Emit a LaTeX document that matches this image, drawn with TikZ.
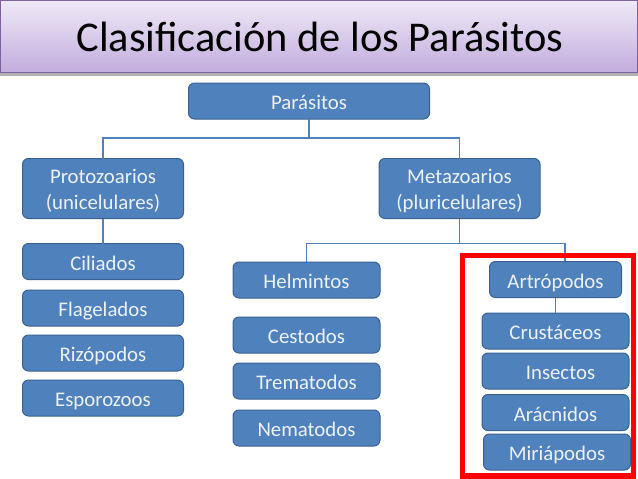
\documentclass[tikz,border=0pt]{standalone}
\usepackage{fontspec}
\setmainfont{Carlito}
\definecolor{boxfill}{HTML}{4F81BD}
\definecolor{boxline}{HTML}{3A6291}
\definecolor{boxtext}{HTML}{EDF2F9}
\definecolor{barline}{HTML}{7D62A0}
\definecolor{bartop}{HTML}{EFE9F7}
\definecolor{barbottom}{HTML}{C2ACDD}
\begin{document}
\begin{tikzpicture}[x=1pt,y=-1pt,link/.style={draw=boxfill,line width=1.8pt},
    every node/.style={outer sep=0pt}]
    \tikzstyle{element}=[rectangle,rounded corners=6pt,fill=boxfill,draw=boxline,line width=1pt,
        text=boxtext,font=\fontsize{20.8}{26}\selectfont,align=center,inner sep=0pt,
        execute at begin node={\rule[-3.5pt]{0pt}{24pt}}]
    \tikzstyle{wide}=[element,minimum width=161pt,minimum height=36pt]
    \tikzstyle{mid}=[element,minimum width=147pt,minimum height=36pt]
    \tikzstyle{tall}=[element,minimum width=161pt,minimum height=60pt,
        execute at begin node={\rule{0pt}{46pt}}]

    \useasboundingbox (0,0) rectangle (638,479);

    \fill[black!30] (0,73) rectangle (638,76);
    \node[rectangle,draw=barline,line width=1pt,top color=bartop,bottom color=barbottom,
        minimum width=637pt,minimum height=72.5pt] (title) at (319,36.5) {};
    \node[font=\fontsize{42.4}{46}\selectfont,text=black,inner sep=0pt] (name) at (320,37) {Clasificación de los Parásitos};

    \node[element,minimum width=241pt,minimum height=36pt] (parasitos) at (309,101) {Parásitos};
    \node[tall] (proto) at (103,188.5) {Protozoarios\\(unicelulares)};
    \node[tall] (meta) at (459.5,188.5) {Metazoarios\\(pluricelulares)};

    \node[wide] (ciliados) at (103,261.5) {Ciliados};
    \node[wide] (flagelados) at (103,308) {Flagelados};
    \node[wide] (rizopodos) at (103,353) {Rizópodos};
    \node[wide] (esporozoos) at (103,398) {Esporozoos};

    \node[mid] (helmintos) at (306.5,280) {Helmintos};
    \node[mid] (cestodos) at (306.5,335) {Cestodos};
    \node[mid] (trematodos) at (306.5,381) {Trematodos};
    \node[mid] (nematodos) at (306.5,428) {Nematodos};

    \node[element,minimum width=132pt,minimum height=36pt] (artropodos) at (555.5,279.5) {Artrópodos};
    \node[mid] (crustaceos) at (555.5,331) {Crustáceos};
    \node[mid] (insectos) at (555.5,371) {\hspace*{10pt}Insectos};
    \node[mid] (aracnidos) at (555.5,412.5) {Arácnidos};
    \node[mid] (miriapodos) at (557,452) {Miriápodos};

    \coordinate (artin) at (565,261);

    \draw[link] (parasitos.south) -- ++(0,19) -| (proto.north);
    \draw[link] (parasitos.south) -- ++(0,19) -| (meta.north);
    \draw[link] (proto.south) -- (ciliados.north);
    \draw[link] (meta.south) -- ++(0,25) -| (helmintos.north);
    \draw[link] (meta.south) -- ++(0,25) -| (artin);
    \draw[link] (artropodos.south) -- (crustaceos.north);

    \draw[red,line width=5.5pt] (462.5,255.5) rectangle (633.5,476);

\end{tikzpicture}
\end{document}
